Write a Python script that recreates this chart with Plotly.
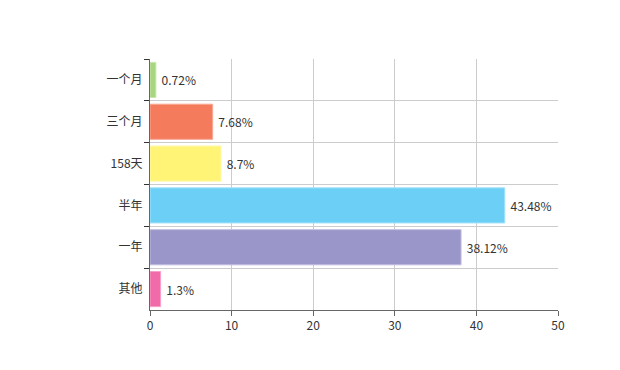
import plotly.graph_objects as go

categories = ["一个月", "三个月", "158天", "半年", "一年", "其他"]
values = [0.72, 7.68, 8.7, 43.48, 38.12, 1.3]
labels = ["0.72%", "7.68%", "8.7%", "43.48%", "38.12%", "1.3%"]
colors = ["#a8d57f", "#f47c5c", "#fff476", "#6bcff6", "#9a96c9", "#f06ba8"]
edge_colors = ["#c9e6ae", "#f8a892", "#fff8a8", "#a6e2f9", "#c0bde0", "#f5a0c8"]

fig = go.Figure(go.Bar(
    x=values, y=categories, orientation="h",
    marker=dict(color=colors, line=dict(color=edge_colors, width=1)),
    text=[" " + t for t in labels], textposition="outside", cliponaxis=False,
    textfont=dict(size=12, color="#333333"),
))

font = "Noto Sans CJK SC, Microsoft YaHei, sans-serif"
fig.update_layout(
    width=620, height=370,
    margin=dict(l=142, r=70, t=51, b=68),
    paper_bgcolor="white", plot_bgcolor="white",
    font=dict(family=font, size=12, color="#333333"),
    bargap=0.16,
    showlegend=False,
    xaxis=dict(range=[0, 50], dtick=10, showgrid=True, gridcolor="#cccccc", gridwidth=1,
               zeroline=False, showline=True, linecolor="#666666", linewidth=1,
               ticks="outside", ticklen=5, tickcolor="#666666",
               tickfont=dict(size=12, color="#333333")),
    yaxis=dict(type="category", autorange="reversed", tickson="boundaries",
               showgrid=True, gridcolor="#cccccc", gridwidth=1,
               showline=True, linecolor="#666666", linewidth=1,
               ticks="outside", ticklen=5, tickcolor="#333333",
               ticklabelstandoff=4,
               tickfont=dict(size=12, color="#333333")),
)

fig.write_html("out.html")
